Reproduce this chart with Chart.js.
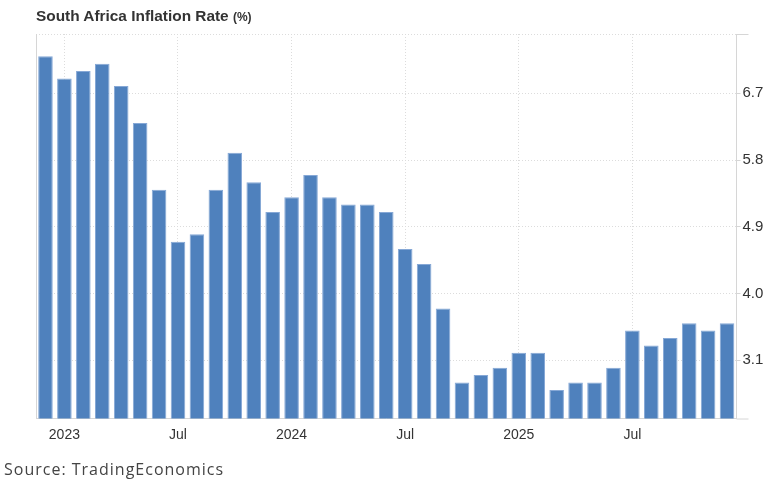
<!DOCTYPE html>
<html lang="en">
<head>
    <meta charset="UTF-8">
    <title>South Africa Inflation Rate</title>
    <script src="https://cdn.jsdelivr.net/npm/chart.js"></script>
    <style>
        html, body { margin: 0; padding: 0; background: #fff; }
        #wrap { position: relative; width: 773px; height: 481px; }
        #title { position: absolute; left: 36px; top: 7px; font: bold 15.4px "Liberation Sans", Arial, sans-serif; color: #333; white-space: nowrap; }
        #title small { font-size: 12px; }
        #source { position: absolute; left: 4px; top: 458px; font: 16px "Open Sans", sans-serif; letter-spacing: 1px; color: #444; white-space: nowrap; }
        canvas { position: absolute; left: 0; top: 0; }
    </style>
</head>
<body>
<div id="wrap">
    <canvas id="inflationChart" width="773" height="481"></canvas>
    <div id="title">South Africa Inflation Rate <small>(%)</small></div>
    <div id="source">Source: TradingEconomics</div>
</div>

<script>
    // months from Dec 2022 to Dec 2025
    const months = [
        '2022-12',
        '2023-01', '2023-02', '2023-03', '2023-04', '2023-05', '2023-06',
        '2023-07', '2023-08', '2023-09', '2023-10', '2023-11', '2023-12',
        '2024-01', '2024-02', '2024-03', '2024-04', '2024-05', '2024-06',
        '2024-07', '2024-08', '2024-09', '2024-10', '2024-11', '2024-12',
        '2025-01', '2025-02', '2025-03', '2025-04', '2025-05', '2025-06',
        '2025-07', '2025-08', '2025-09', '2025-10', '2025-11', '2025-12'
    ];
    const inflation = [
        7.2,
        6.9, 7.0, 7.1, 6.8, 6.3, 5.4,
        4.7, 4.8, 5.4, 5.9, 5.5, 5.1,
        5.3, 5.6, 5.3, 5.2, 5.2, 5.1,
        4.6, 4.4, 3.8, 2.8, 2.9, 3.0,
        3.2, 3.2, 2.7, 2.8, 2.8, 3.0,
        3.5, 3.3, 3.4, 3.6, 3.5, 3.6
    ];
    const yTicks = [3.1, 4.0, 4.9, 5.8, 6.7];

    function monthLabel(m) {
        const [y, mm] = m.split('-');
        if (mm === '01') return y;
        if (mm === '07') return 'Jul';
        return '';
    }

    // frame: dotted top line, solid left line, small extensions past the axes
    const framePlugin = {
        id: 'frame',
        afterDraw(chart) {
            const { ctx, chartArea: a } = chart;
            ctx.save();
            ctx.lineWidth = 1;
            ctx.strokeStyle = '#dcdcdc';
            ctx.setLineDash([1, 2]);
            ctx.beginPath();
            ctx.moveTo(a.left, a.top + 0.5);
            ctx.lineTo(a.right, a.top + 0.5);
            ctx.stroke();
            ctx.setLineDash([]);
            ctx.strokeStyle = '#d6d6d6';
            ctx.beginPath();
            ctx.moveTo(a.right, a.top + 0.5);
            ctx.lineTo(a.right + 12, a.top + 0.5);
            ctx.moveTo(a.left + 0.5, a.top);
            ctx.lineTo(a.left + 0.5, a.bottom);
            ctx.moveTo(a.right, a.bottom + 0.5);
            ctx.lineTo(a.right + 12, a.bottom + 0.5);
            ctx.stroke();
            ctx.restore();
        }
    };

    const ctx = document.getElementById('inflationChart').getContext('2d');
    new Chart(ctx, {
        type: 'bar',
        data: {
            labels: months,
            datasets: [{
                label: 'Inflation Rate',
                data: inflation,
                backgroundColor: '#4f81bd',
                borderColor: '#86a8d6',
                borderWidth: 1,
                categoryPercentage: 1,
                barPercentage: 0.77
            }]
        },
        options: {
            responsive: false,
            animation: false,
            layout: { padding: { left: 36, top: 34, right: 0, bottom: 0 } },
            plugins: {
                legend: { display: false },
                tooltip: { enabled: false }
            },
            scales: {
                x: {
                    grid: {
                        offset: false,
                        drawTicks: false,
                        color: c => monthLabel(months[c.index] || '') ? '#dcdcdc' : 'rgba(0,0,0,0)'
                    },
                    border: { color: '#d6d6d6', dash: [1, 2] },
                    ticks: {
                        autoSkip: false,
                        maxRotation: 0,
                        padding: 8,
                        color: '#333',
                        font: { family: 'Liberation Sans, Arial, sans-serif', size: 14 },
                        callback: (v, i) => monthLabel(months[i])
                    },
                    afterFit: s => { s.height = 62.5; }
                },
                y: {
                    position: 'right',
                    min: 2.315,
                    max: 7.5,
                    afterBuildTicks: s => { s.ticks = yTicks.map(v => ({ value: v })); },
                    grid: {
                        color: '#dcdcdc',
                        tickColor: '#d6d6d6',
                        tickLength: 4
                    },
                    border: { color: '#d6d6d6', dash: [1, 2] },
                    ticks: {
                        padding: 2,
                        color: '#333',
                        font: { family: 'Liberation Sans, Arial, sans-serif', size: 15 },
                        callback: v => v.toFixed(1)
                    },
                    afterFit: s => { s.width = 36.5; }
                }
            }
        },
        plugins: [framePlugin]
    });
</script>
</body>
</html>
